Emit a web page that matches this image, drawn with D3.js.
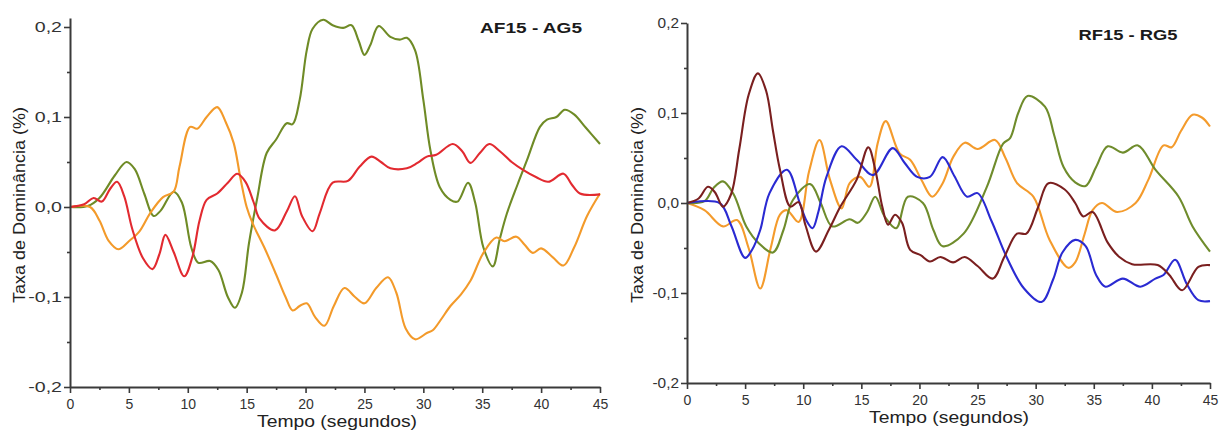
<!DOCTYPE html>
<html><head><meta charset="utf-8">
<script src="https://cdn.jsdelivr.net/npm/d3@7"></script>
<style>
body{margin:0;background:#fff;}
svg{display:block;font-family:"Liberation Sans",Arial,sans-serif;}
</style></head>
<body><svg id="c" width="1222" height="432"></svg>
<script>
// ---- tick values ----
const yMajor = [-0.2, -0.1, 0.0, 0.1, 0.2];
const yMinor = [-0.15, -0.05, 0.05, 0.15];
const xMajor = [0, 5, 10, 15, 20, 25, 30, 35, 40, 45];
const xMinor = [2.5, 7.5, 12.5, 17.5, 22.5, 27.5, 32.5, 37.5, 42.5];

// ---- left panel: AF15 - AG5 ----
const leftGreen = [[0,0],[1.5,0.001],[2.5,0.01],[3.8,0.035],[4.8,0.05],[5.5,0.042],[6.3,0.015],[7.1,-0.01],[7.7,-0.004],[8.8,0.017],[9.5,0.005],[10.3,-0.045],[10.9,-0.062],[11.9,-0.06],[12.6,-0.07],[13.4,-0.1],[14.0,-0.112],[14.6,-0.095],[15.2,-0.04],[15.9,0.01],[16.7,0.06],[17.5,0.075],[18.4,0.093],[18.9,0.092],[19.5,0.119],[20.1,0.174],[20.6,0.198],[21.5,0.208],[22.3,0.202],[23.2,0.199],[23.9,0.202],[24.5,0.185],[25.0,0.169],[25.5,0.18],[26.2,0.201],[27.2,0.189],[28.0,0.186],[28.6,0.188],[29.3,0.174],[30.0,0.119],[30.6,0.063],[31.4,0.022],[32.3,0.008],[32.9,0.006],[33.8,0.027],[34.4,0.005],[35.1,-0.045],[35.9,-0.066],[36.5,-0.035],[37.1,-0.007],[38.0,0.025],[38.8,0.052],[39.9,0.089],[40.5,0.097],[41.3,0.1],[42.0,0.108],[42.8,0.103],[43.8,0.088],[45,0.07]];
const leftOrange = [[0,0],[1.7,0],[2.5,-0.015],[3.3,-0.038],[4.1,-0.047],[5.0,-0.038],[5.9,-0.027],[6.8,-0.007],[7.9,0.011],[8.8,0.017],[9.3,0.045],[10.2,0.089],[10.8,0.087],[11.6,0.1],[12.5,0.111],[13.2,0.095],[13.9,0.071],[14.5,0.03],[15.0,0.0],[15.5,-0.018],[16.5,-0.045],[17.5,-0.075],[18.3,-0.1],[18.9,-0.115],[19.5,-0.11],[20.1,-0.107],[20.8,-0.122],[21.6,-0.132],[22.4,-0.11],[23.3,-0.09],[24.2,-0.1],[25.0,-0.107],[26.0,-0.09],[27.0,-0.078],[27.7,-0.095],[28.5,-0.135],[29.3,-0.147],[30.3,-0.14],[30.8,-0.137],[31.5,-0.125],[32.3,-0.11],[33.2,-0.097],[34.0,-0.082],[35.1,-0.051],[36.2,-0.034],[36.9,-0.038],[37.9,-0.033],[38.6,-0.042],[39.3,-0.051],[40.0,-0.046],[41.0,-0.056],[41.9,-0.065],[42.8,-0.045],[43.9,-0.01],[45,0.015]];
const leftRed = [[0,0],[1.2,0.003],[2.0,0.01],[2.7,0.006],[3.4,0.02],[4.0,0.028],[4.6,0.012],[5.3,-0.025],[6.2,-0.057],[7.0,-0.069],[7.6,-0.052],[8.1,-0.031],[8.8,-0.05],[9.7,-0.077],[10.4,-0.055],[11.0,-0.015],[11.6,0.008],[12.5,0.015],[13.4,0.027],[14.2,0.037],[14.9,0.028],[15.6,0.005],[16.1,-0.013],[17.4,-0.026],[18.4,-0.005],[19.1,0.012],[19.7,-0.01],[20.6,-0.027],[21.2,-0.007],[22.3,0.027],[23.6,0.029],[24.6,0.045],[25.6,0.056],[26.4,0.05],[27.2,0.043],[28.6,0.043],[29.5,0.049],[30.3,0.056],[31.1,0.058],[32.5,0.07],[33.3,0.062],[34.0,0.049],[34.8,0.06],[35.6,0.07],[36.5,0.062],[37.5,0.05],[38.5,0.041],[39.6,0.033],[40.6,0.028],[41.9,0.037],[42.6,0.025],[43.3,0.015],[45,0.014]];

// ---- right panel: RF15 - RG5 ----
const rightMaroon = [[0,0],[1.0,0.005],[1.8,0.018],[2.4,0.012],[3.1,-0.004],[3.8,0.01],[4.5,0.06],[5.3,0.12],[6.1,0.144],[6.8,0.125],[7.4,0.08],[8.0,0.037],[8.9,-0.004],[9.6,0.001],[10.2,-0.025],[11.1,-0.054],[12.2,-0.03],[13.2,-0.004],[14.6,0.026],[15.6,0.062],[16.2,0.037],[16.8,-0.004],[17.3,-0.024],[17.9,-0.013],[18.5,-0.022],[19.2,-0.052],[20.1,-0.058],[20.9,-0.065],[21.8,-0.06],[22.9,-0.066],[23.9,-0.06],[25.0,-0.07],[26.3,-0.084],[27.3,-0.06],[28.4,-0.034],[29.2,-0.034],[30.2,-0.005],[31.1,0.022],[32.5,0.015],[33.4,0],[34.1,-0.015],[34.9,-0.01],[36.2,-0.044],[37.2,-0.06],[38.3,-0.068],[40.5,-0.069],[41.5,-0.08],[42.6,-0.097],[44.0,-0.071],[45,-0.069]];
const rightBlue = [[0,0],[2.8,0],[3.8,-0.025],[5.0,-0.061],[5.6,-0.052],[6.3,-0.03],[7.1,0.011],[8.6,0.037],[9.7,0],[10.3,-0.02],[10.8,-0.028],[11.3,-0.01],[12.0,0.029],[13.3,0.063],[14.6,0.048],[16.0,0.031],[17.7,0.061],[18.7,0.045],[19.8,0.029],[20.9,0.029],[22.0,0.051],[23.0,0.03],[24.1,0.007],[25.0,0.011],[26.2,-0.02],[27.5,-0.06],[29.0,-0.095],[30.5,-0.11],[31.5,-0.085],[32.3,-0.055],[33.4,-0.041],[34.3,-0.048],[35.2,-0.08],[36.0,-0.093],[37.5,-0.084],[39.0,-0.093],[40.3,-0.084],[41.0,-0.08],[42.0,-0.063],[43.0,-0.09],[44.0,-0.108],[45,-0.109]];
const rightGreen = [[0,0],[1.5,0.002],[2.3,0.017],[3.1,0.024],[4.0,0.01],[5.1,-0.026],[6.2,-0.045],[7.4,-0.055],[8.3,-0.03],[9.1,0.003],[10.6,0.021],[11.5,0],[12.5,-0.026],[14.0,-0.018],[14.7,-0.022],[15.5,-0.01],[16.2,0.007],[17.0,-0.015],[18.0,-0.028],[19.0,0.007],[20.3,0],[21.2,-0.03],[22.0,-0.048],[23.8,-0.034],[25.8,0.018],[27.2,0.066],[27.8,0.072],[28.5,0.1],[29.3,0.119],[30.8,0.107],[31.6,0.075],[32.4,0.04],[33.4,0.023],[34.3,0.019],[35.2,0.04],[36.2,0.063],[37.5,0.056],[38.8,0.064],[40.3,0.037],[42.3,0.007],[43.5,-0.026],[45,-0.054]];
const rightOrange = [[0,0],[1.5,-0.008],[3.1,-0.026],[4.3,-0.019],[5.3,-0.05],[6.3,-0.095],[7.2,-0.05],[8.0,-0.013],[8.6,-0.008],[9.6,-0.021],[10.5,0.035],[11.4,0.07],[12.3,0.026],[13.3,-0.006],[14.0,0.022],[14.9,0.029],[15.7,0.018],[16.4,0.066],[17.1,0.091],[18.3,0.055],[19.2,0.048],[20.2,0.025],[21.1,0.007],[22.0,0.022],[22.9,0.051],[23.9,0.067],[25.0,0.06],[26.5,0.07],[27.4,0.05],[28.4,0.022],[29.8,0.007],[31.2,-0.041],[32.8,-0.072],[33.4,-0.066],[34.2,-0.035],[34.9,-0.008],[35.7,0],[37.0,-0.01],[38.6,0],[39.7,0.026],[41.0,0.064],[41.7,0.062],[42.5,0.08],[43.5,0.098],[44.3,0.095],[45,0.085]];

const panels = [
  {title:"AF15 - AG5", xr:[70,600], yd:[-0.2,0.21], yr:[387,18], titleX:531, titleY:33, titleLen:102,
   ylabX:25, ylabScale:1.4, xtitleY:427, xtitleX:337,
   series:[{d:leftGreen,c:"#6f8b26"},{d:leftOrange,c:"#f39a2a"},{d:leftRed,c:"#e22a30"}]},
  {title:"RF15 - RG5", xr:[687,1210], yd:[-0.2,0.2], yr:[383,23], titleX:1128, titleY:40, titleLen:99,
   ylabX:643, ylabScale:1.1, xtitleY:423, xtitleX:949,
   series:[{d:rightOrange,c:"#f49b2c"},{d:rightGreen,c:"#6f8c2c"},{d:rightBlue,c:"#2a2ad2"},{d:rightMaroon,c:"#7a1f1f"}]}
];

const svg = d3.select("#c");
const fmt = v => (v < -1e-9 ? "-" : "") + Math.abs(v).toFixed(1).replace(".", ",");
const axisColor = "#3a3a3a";

panels.forEach(p => {
  const x = d3.scaleLinear().domain([0,45]).range(p.xr);
  const y = d3.scaleLinear().domain(p.yd).range(p.yr);
  const g = svg.append("g");

  // lines
  const line = d3.line().x(d => x(d[0])).y(d => y(d[1])).curve(d3.curveCatmullRom.alpha(0.5));
  p.series.forEach(s => {
    g.append("path").attr("d", line(s.d)).attr("fill","none")
      .attr("stroke", s.c).attr("stroke-width", 2.1).attr("stroke-linejoin","round");
  });

  // y axis
  const ya = g.append("g").attr("transform", `translate(${p.xr[0]},0)`)
    .call(d3.axisLeft(y).tickValues(yMajor).tickFormat(fmt).tickSize(6).tickSizeOuter(0));
  const yminor = g.append("g").attr("transform", `translate(${p.xr[0]},0)`)
    .call(d3.axisLeft(y).tickValues(yMinor).tickFormat("").tickSize(3).tickSizeOuter(0));
  yminor.select(".domain").remove();
  // x axis
  const xa = g.append("g").attr("transform", `translate(0,${p.yr[0]})`)
    .call(d3.axisBottom(x).tickValues(xMajor).tickFormat(d3.format("d")).tickSize(6).tickSizeOuter(0));
  const xminor = g.append("g").attr("transform", `translate(0,${p.yr[0]})`)
    .call(d3.axisBottom(x).tickValues(xMinor).tickFormat("").tickSize(3).tickSizeOuter(0));
  xminor.select(".domain").remove();

  [ya, yminor, xa, xminor].forEach(a => {
    a.selectAll(".domain").attr("stroke", axisColor).attr("stroke-width", 2);
    a.selectAll(".tick line").attr("stroke", axisColor).attr("stroke-width", 1.6);
  });
  ya.selectAll(".tick text").attr("fill","#333").style("font-size","14px")
    .attr("x", -8 / p.ylabScale).attr("dy","0.35em")
    .attr("transform", `scale(${p.ylabScale},1)`);
  xa.selectAll(".tick text").attr("fill","#333").style("font-size","14px").attr("dy","0.9em");

  // titles
  g.append("text").text(p.title).attr("x", p.titleX).attr("y", p.titleY)
    .attr("text-anchor","middle").style("font-size","15px").style("font-weight","bold")
    .attr("fill","#1a1a1a").attr("textLength", p.titleLen).attr("lengthAdjust","spacingAndGlyphs");
  g.append("text").text("Tempo (segundos)").attr("x", p.xtitleX).attr("y", p.xtitleY)
    .attr("text-anchor","middle").style("font-size","17px").attr("fill","#222")
    .attr("textLength", 160).attr("lengthAdjust","spacingAndGlyphs");
  g.append("text").text("Taxa de Dominância (%)")
    .attr("transform", `translate(${p.ylabX},205) rotate(-90)`)
    .attr("text-anchor","middle").style("font-size","17px").attr("fill","#222")
    .attr("textLength", 196).attr("lengthAdjust","spacingAndGlyphs");
});
</script></body></html>
